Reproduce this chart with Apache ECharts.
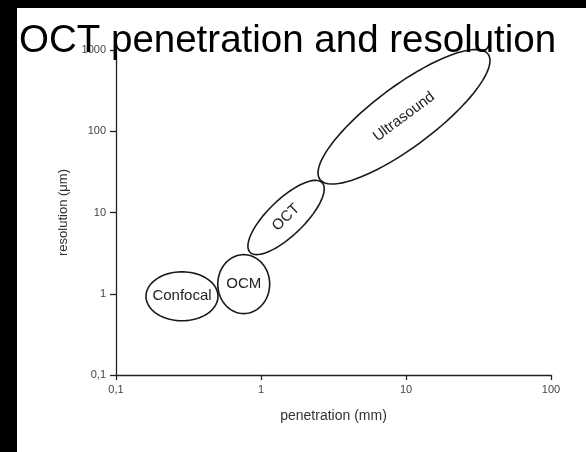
<!DOCTYPE html>
<html>
<head>
<meta charset="utf-8">
<script src="https://cdn.jsdelivr.net/npm/echarts@6/dist/echarts.min.js"></script>
<style>
  html, body { margin: 0; padding: 0; background: #fff; }
  #main { width: 586px; height: 452px; }
</style>
</head>
<body>
<div id="main"></div>
<script>
// tick values and labels (comma decimal as in the figure)
const xTickValues = [0.1, 1, 10, 100]
const xTickLabels = ['0,1', '1', '10', '100']
const yTickValues = [0.1, 1, 10, 100, 1000]
const yTickLabels = ['0,1', '1', '10', '100', '1000']

// imaging modalities: ends of the long axis of each ellipse (mm, µm) and width/length ratio
const regions = ['Confocal', 'OCM', 'OCT', 'Ultrasound']
const penStart = [0.161, 0.76, 0.84, 2.55]
const penEnd = [0.505, 0.76, 2.64, 36.8]
const resStart = [0.93, 0.57, 3.24, 25.5]
const resEnd = [0.93, 3.03, 23.3, 891]
const widthRatio = [0.68, 0.88, 0.36, 0.29]

const seriesData = regions.map((name, i) => ({
  name: name,
  value: [penStart[i], resStart[i], penEnd[i], resEnd[i], widthRatio[i]]
}))

function tickText(values, labels) {
  return function(v) {
    for (let i = 0; i < values.length; i++) {
      if (Math.abs(Math.log10(v) - Math.log10(values[i])) < 1e-6) return labels[i]
    }
    return ''
  }
}

const font = '"Liberation Sans", Arial, sans-serif'

const chart = echarts.init(document.getElementById('main'))
const option = {
  backgroundColor: '#fff',
  animation: false,
  title: {
    text: 'OCT penetration and resolution',
    left: 19,
    top: 22,
    padding: 0,
    z: 10,
    textStyle: {
      fontFamily: font,
      fontSize: 38.5,
      fontWeight: 'normal',
      color: '#000'
    }
  },
  graphic: [
    { type: 'rect', left: 0, top: 0, shape: { width: 17, height: 452 }, style: { fill: '#000' } },
    { type: 'rect', left: 0, top: 0, shape: { width: 586, height: 8 }, style: { fill: '#000' } }
  ],
  grid: {
    left: 116,
    right: 35,
    top: 50,
    bottom: 77
  },
  xAxis: {
    type: 'log',
    logBase: 10,
    min: 0.1,
    max: 100,
    name: 'penetration (mm)',
    nameLocation: 'middle',
    nameGap: 34,
    nameTextStyle: { fontFamily: font, fontSize: 14, color: '#333' },
    axisLine: { lineStyle: { color: '#222', width: 1.3 } },
    axisTick: { show: true, length: 5, lineStyle: { color: '#222', width: 1.3 } },
    axisLabel: {
      fontFamily: font,
      fontSize: 11,
      color: '#444',
      margin: 9,
      formatter: tickText(xTickValues, xTickLabels)
    },
    splitLine: { show: false },
    minorTick: { show: false }
  },
  yAxis: {
    type: 'log',
    logBase: 10,
    min: 0.1,
    max: 1000,
    name: 'resolution (\u03bcm)',
    nameLocation: 'middle',
    nameGap: 46,
    nameRotate: 90,
    nameTextStyle: { fontFamily: font, fontSize: 13, color: '#333' },
    axisLine: { show: true, lineStyle: { color: '#222', width: 1.3 } },
    axisTick: { show: true, length: 6, lineStyle: { color: '#222', width: 1.3 } },
    axisLabel: {
      fontFamily: font,
      fontSize: 11,
      color: '#444',
      margin: 10,
      formatter: tickText(yTickValues, yTickLabels)
    },
    splitLine: { show: false }
  },
  series: [{
    type: 'custom',
    coordinateSystem: 'cartesian2d',
    encode: { x: [0, 2], y: [1, 3] },
    data: seriesData,
    renderItem: function(params, api) {
      const p0 = api.coord([api.value(0), api.value(1)])
      const p1 = api.coord([api.value(2), api.value(3)])
      const ratio = api.value(4)
      const cx = (p0[0] + p1[0]) / 2
      const cy = (p0[1] + p1[1]) / 2
      const dx = p1[0] - p0[0]
      const dy = p1[1] - p0[1]
      const a = Math.sqrt(dx * dx + dy * dy) / 2
      const b = a * ratio
      const ang = Math.atan2(dy, dx)
      const pts = []
      for (let k = 0; k < 90; k++) {
        const t = (k / 90) * Math.PI * 2
        const ex = a * Math.cos(t)
        const ey = b * Math.sin(t)
        pts.push([
          cx + ex * Math.cos(ang) - ey * Math.sin(ang),
          cy + ex * Math.sin(ang) + ey * Math.cos(ang)
        ])
      }
      return {
        type: 'group',
        children: [
          {
            type: 'polygon',
            shape: { points: pts },
            style: { fill: 'none', stroke: '#1a1a1a', lineWidth: 1.6 }
          },
          {
            type: 'text',
            x: cx,
            y: cy,
            rotation: ratio < 0.6 ? -ang : 0,
            style: {
              text: regions[params.dataIndex],
              x: 0,
              y: 0,
              align: 'center',
              verticalAlign: 'middle',
              fontFamily: font,
              fontSize: 15,
              fill: '#222'
            }
          }
        ]
      }
    }
  }]
}

chart.setOption(option)
window.onresize = () => {
  chart.resize()
}
</script>
</body>
</html>
